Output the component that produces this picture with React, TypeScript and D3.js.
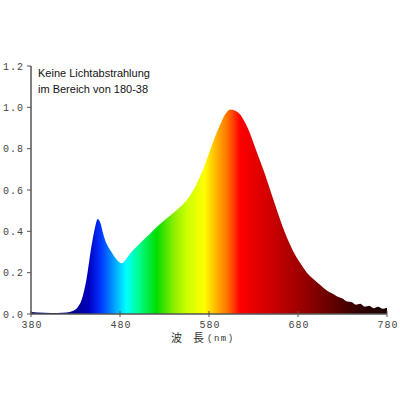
import React, { useEffect, useRef } from 'react';
import * as d3 from 'd3';

// spectrum (nm, relative intensity)
const wavelengths = [
  380, 395, 410, 420, 427, 432, 437, 442, 448, 452, 455, 458, 461, 465, 469, 476, 482, 486, 491,
  502, 514, 525, 536, 547, 559, 570, 576, 581, 587, 593, 598, 604, 609, 615, 620, 626, 631, 637,
  643, 648, 653, 658, 663, 668, 675, 682, 690, 697, 705, 712, 718, 724, 730, 735, 740, 745, 750,
  755, 760, 765, 770, 775, 780,
];
const intensity = [
  0.01, 0.006, 0.005, 0.007, 0.014, 0.03, 0.07, 0.16, 0.33, 0.42, 0.46, 0.44, 0.39, 0.34, 0.31,
  0.265, 0.245, 0.26, 0.29, 0.34, 0.39, 0.435, 0.475, 0.515, 0.575, 0.665, 0.73, 0.79, 0.86, 0.92,
  0.965, 0.99, 0.985, 0.965, 0.93, 0.875, 0.815, 0.745, 0.675, 0.61, 0.545, 0.48, 0.42, 0.365, 0.3,
  0.25, 0.2, 0.17, 0.14, 0.115, 0.1, 0.085, 0.075, 0.06, 0.058, 0.045, 0.05, 0.035, 0.04, 0.028,
  0.035, 0.025, 0.03,
];

// colour of the fill along the wavelength axis
const stopNm = [380, 430, 445, 458, 470, 487, 500, 521, 540, 555, 575, 590, 600, 615, 650, 686, 720, 750, 780];
const stopColor = [
  '#000060', '#000090', '#0000c0', '#0033ff', '#0088ff', '#00ffff', '#00ff99', '#00dd00', '#88ee00',
  '#ccff00', '#ffff00', '#ffaa00', '#ff7700', '#ff0000', '#cc0000', '#990000', '#600000', '#300000',
  '#1a0000',
];

const xTicks = [380, 480, 580, 680, 780];
const yTicks = [0, 0.2, 0.4, 0.6, 0.8, 1.0, 1.2];

const App: React.FC = () => {
  const svgRef = useRef<SVGSVGElement | null>(null);

  useEffect(() => {
    const svg = d3.select(svgRef.current);
    svg.selectAll('*').remove();

    const x = d3.scaleLinear().domain([380, 780]).range([31, 387]);
    const y = d3.scaleLinear().domain([0, 1.2]).range([314, 66]);

    const defs = svg.append('defs');
    const grad = defs.append('linearGradient')
      .attr('id', 'spec')
      .attr('gradientUnits', 'userSpaceOnUse')
      .attr('x1', x(380)).attr('x2', x(780))
      .attr('y1', 0).attr('y2', 0);
    stopNm.forEach((nm, i) => {
      grad.append('stop')
        .attr('offset', (nm - 380) / 400)
        .attr('stop-color', stopColor[i]);
    });

    const pts = wavelengths.map((w, i) => [w, intensity[i]] as [number, number]);
    const area = d3.area<[number, number]>()
      .x((d) => x(d[0]))
      .y0(y(0))
      .y1((d) => y(d[1]))
      .curve(d3.curveMonotoneX);

    svg.append('path')
      .attr('d', area(pts))
      .attr('fill', 'url(#spec)');

    const axisColor = '#555';
    const mono = "'Liberation Mono', 'DejaVu Sans Mono', monospace";

    // y axis
    svg.append('line')
      .attr('x1', x(380)).attr('x2', x(380))
      .attr('y1', y(1.2)).attr('y2', y(0))
      .attr('stroke', axisColor).attr('stroke-width', 1.5);
    yTicks.forEach((t) => {
      svg.append('line')
        .attr('x1', x(380) - 4).attr('x2', x(380))
        .attr('y1', y(t)).attr('y2', y(t))
        .attr('stroke', axisColor);
      svg.append('text')
        .attr('x', x(380) - 7)
        .attr('y', y(t) + 3.5)
        .attr('text-anchor', 'end')
        .attr('font-family', mono)
        .attr('font-size', 10)
        .attr('letter-spacing', 1)
        .attr('fill', '#444')
        .text(t.toFixed(1));
    });

    // x axis
    svg.append('line')
      .attr('x1', x(380)).attr('x2', x(780))
      .attr('y1', y(0)).attr('y2', y(0))
      .attr('stroke', axisColor).attr('stroke-width', 1.5);
    xTicks.forEach((t) => {
      svg.append('line')
        .attr('x1', x(t)).attr('x2', x(t))
        .attr('y1', y(0) - 3).attr('y2', y(0) + 3)
        .attr('stroke', axisColor);
      svg.append('text')
        .attr('x', x(t) + 1)
        .attr('y', y(0) + 14)
        .attr('text-anchor', 'middle')
        .attr('font-family', mono)
        .attr('font-size', 10)
        .attr('letter-spacing', 1)
        .attr('fill', '#444')
        .text(String(t));
    });

    // axis title
    svg.append('text')
      .attr('x', x(580) - 5)
      .attr('y', y(0) + 28)
      .attr('text-anchor', 'end')
      .attr('font-family', "'Noto Sans CJK JP', sans-serif")
      .attr('font-size', 11)
      .attr('fill', '#333')
      .text('波　長');
    svg.append('text')
      .attr('x', x(580) - 2)
      .attr('y', y(0) + 27)
      .attr('text-anchor', 'start')
      .attr('font-family', mono)
      .attr('font-size', 9)
      .attr('letter-spacing', 1.5)
      .attr('fill', '#333')
      .text('(nm)');

    // note in the corner
    const note = svg.append('text')
      .attr('font-family', "'Liberation Sans', Arial, sans-serif")
      .attr('font-size', 11)
      .attr('fill', '#111');
    note.append('tspan').attr('x', 38).attr('y', 77).text('Keine Lichtabstrahlung');
    note.append('tspan').attr('x', 38).attr('y', 93).text('im Bereich von 180-38');
  }, []);

  return (
    <div style={{ position: 'absolute', left: 0, top: 0, width: 400, height: 400, background: '#fff' }}>
      <svg ref={svgRef} width={400} height={400} role="img" aria-label="LED spectrum" />
    </div>
  );
};

export default App;
